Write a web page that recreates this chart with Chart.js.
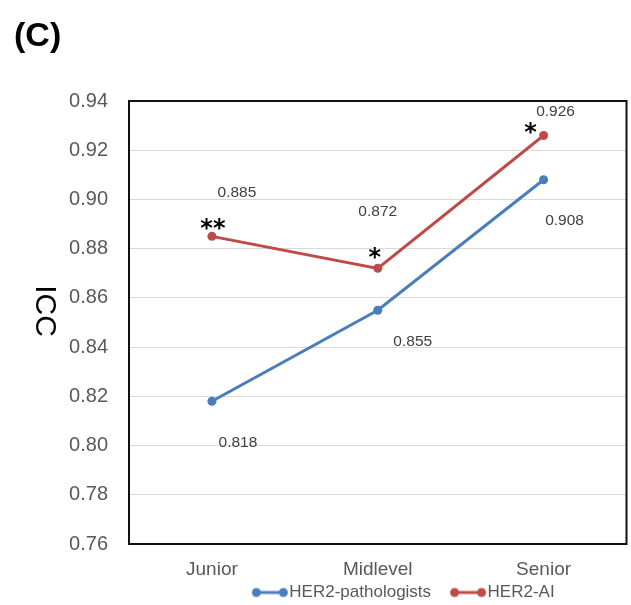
<!DOCTYPE html>
<html>
<head>
<meta charset="utf-8">
<script src="https://cdn.jsdelivr.net/npm/chart.js@4.4.0/dist/chart.umd.min.js"></script>
<style>
html, body { margin: 0; padding: 0; background: #fff; }
#wrap { width: 631px; height: 605px; }
</style>
</head>
<body>
<div id="wrap"><canvas id="iccChart"></canvas></div>
<script>
const levels = ['Junior', 'Midlevel', 'Senior'];
const pathologistsIcc = [0.818, 0.855, 0.908];
const aiIcc = [0.885, 0.872, 0.926];
const aiSignificance = ['**', '*', '*'];
const yTickValues = [0.76, 0.78, 0.80, 0.82, 0.84, 0.86, 0.88, 0.90, 0.92, 0.94];

const BLUE = '#4a7ebb';
const RED = '#be4b48';
const FONT = '"Liberation Sans", Arial, sans-serif';

// where each value label sits relative to its point (px)
const labelOffsets = [
    [[26, 41], [35, 32], [21, 41]],
    [[25, -44], [0, -57], [12, -24]]
];
const starOffsets = [[1, -14], [-3, -17], [-13, -9]];

function legendSwatch(color) {
    const c = document.createElement('canvas');
    c.width = 38;
    c.height = 12;
    const g = c.getContext('2d');
    g.strokeStyle = color;
    g.fillStyle = color;
    g.lineWidth = 3;
    g.beginPath();
    g.moveTo(5.5, 6);
    g.lineTo(32.5, 6);
    g.stroke();
    [5.5, 32.5].forEach(x => {
        g.beginPath();
        g.arc(x, 6, 4.5, 0, Math.PI * 2);
        g.fill();
    });
    return c;
}
const swatches = [legendSwatch(BLUE), legendSwatch(RED)];

const valueLabels = {
    id: 'valueLabels',
    afterDatasetsDraw(chart) {
        const ctx = chart.ctx;
        ctx.save();
        ctx.textAlign = 'center';
        chart.data.datasets.forEach((ds, di) => {
            const meta = chart.getDatasetMeta(di);
            meta.data.forEach((pt, i) => {
                const [dx, dy] = labelOffsets[di][i];
                ctx.font = '15.5px ' + FONT;
                ctx.fillStyle = '#404040';
                ctx.textBaseline = 'middle';
                ctx.fillText(ds.data[i].toFixed(3), pt.x + dx, pt.y + dy);
            });
        });
        const aiMeta = chart.getDatasetMeta(1);
        aiMeta.data.forEach((pt, i) => {
            const [dx, dy] = starOffsets[i];
            ctx.font = 'bold 24px "DejaVu Sans", sans-serif';
            ctx.fillStyle = '#000';
            ctx.textBaseline = 'alphabetic';
            ctx.fillText(aiSignificance[i], pt.x + dx, pt.y + dy + 13.5);
        });
        ctx.restore();
    }
};

const frameAndTitles = {
    id: 'frameAndTitles',
    afterDraw(chart) {
        const {ctx, chartArea: a} = chart;
        ctx.save();
        ctx.strokeStyle = '#111';
        ctx.lineWidth = 2;
        ctx.strokeRect(a.left, a.top, a.right - a.left, a.bottom - a.top);

        ctx.fillStyle = '#000';
        ctx.font = 'bold 34px ' + FONT;
        ctx.textAlign = 'left';
        ctx.textBaseline = 'alphabetic';
        ctx.fillText('(C)', 14, 46);

        ctx.translate(44, 311);
        ctx.rotate(Math.PI / 2);
        ctx.font = '30px ' + FONT;
        ctx.textAlign = 'center';
        ctx.textBaseline = 'middle';
        ctx.fillText('ICC', 0, 0);
        ctx.restore();
    }
};

// nudge the legend box so it sits where the reference has it
const legendShift = {
    id: 'legendShift',
    afterLayout(chart) {
        const l = chart.legend;
        l.left += 29;
        l.right += 29;
        l.top -= 26;
    }
};

new Chart(document.getElementById('iccChart'), {
    type: 'line',
    data: {
        labels: levels,
        datasets: [
            {
                label: 'HER2-pathologists',
                data: pathologistsIcc,
                borderColor: BLUE,
                backgroundColor: BLUE,
                borderWidth: 3,
                pointRadius: 4.5,
                pointBorderWidth: 0,
                tension: 0
            },
            {
                label: 'HER2-AI',
                data: aiIcc,
                borderColor: RED,
                backgroundColor: RED,
                borderWidth: 3,
                pointRadius: 4.5,
                pointBorderWidth: 0,
                tension: 0
            }
        ]
    },
    options: {
        responsive: true,
        maintainAspectRatio: false,
        animation: false,
        devicePixelRatio: 1,
        layout: {padding: {top: 101, left: 0, right: 3, bottom: 0}},
        scales: {
            x: {
                offset: true,
                grid: {display: false, drawTicks: false},
                border: {display: false},
                ticks: {font: {size: 19, family: FONT}, color: '#595959', padding: 14.6},
                afterFit(scale) { scale.height = 40; }
            },
            y: {
                min: 0.76,
                max: 0.94,
                afterBuildTicks(scale) {
                    scale.ticks = yTickValues.map(v => ({value: v}));
                },
                grid: {color: '#d9d9d9', lineWidth: 1, drawTicks: false},
                border: {display: false},
                ticks: {
                    font: {size: 20, family: FONT},
                    color: '#595959',
                    padding: 21,
                    callback: v => Number(v).toFixed(2)
                },
                afterFit(scale) { scale.width = 129; }
            }
        },
        plugins: {
            title: {display: false},
            tooltip: {enabled: false},
            legend: {
                position: 'bottom',
                fullSize: false,
                maxHeight: 21,
                labels: {
                    usePointStyle: true,
                    pointStyleWidth: 22,
                    padding: 26,
                    color: '#595959',
                    font: {size: 17, family: FONT},
                    generateLabels(chart) {
                        const items = Chart.defaults.plugins.legend.labels.generateLabels(chart);
                        items.forEach(it => { it.pointStyle = swatches[it.datasetIndex]; });
                        return items;
                    }
                }
            }
        }
    },
    plugins: [valueLabels, frameAndTitles, legendShift]
});
</script>
</body>
</html>
